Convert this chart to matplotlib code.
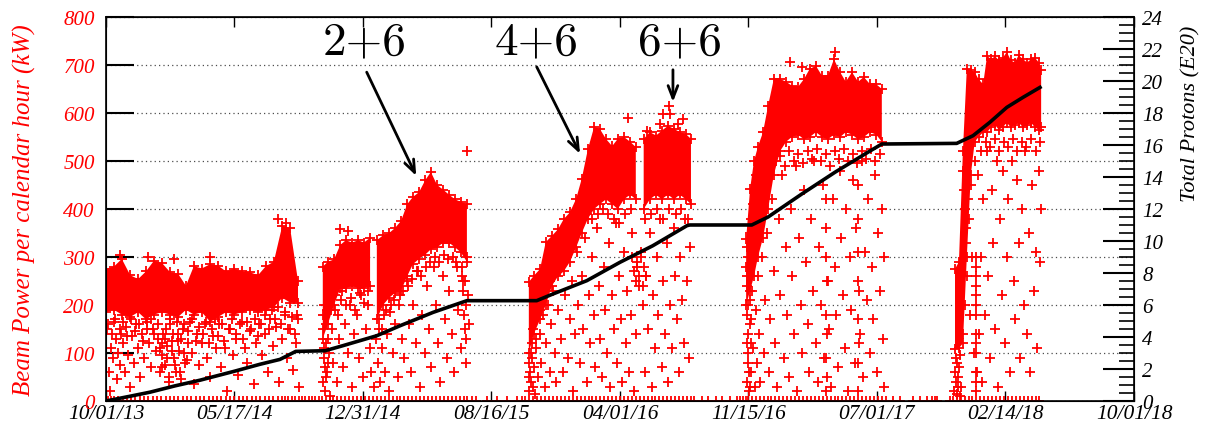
import matplotlib.pyplot as plt
import matplotlib.dates as mdates
import numpy as np
import pandas as pd
from matplotlib.ticker import MultipleLocator

plt.rcParams['font.family'] = ['Liberation Serif', 'DejaVu Serif']
plt.rcParams['font.style'] = 'italic'

START = '2013-10-01'
tick_dates = ['2013-10-01', '2014-05-17', '2014-12-31', '2015-08-16', '2016-04-01',
              '2016-11-15', '2017-07-01', '2018-02-14', '2018-10-01']

# dense core of the beam power cloud (days since START, kW), nan = break between runs
band_day = [0, 14, 28, 43, 57, 71, 85, 99, 114, 128, 142, 156, 170, 185, 199, 213, 227, 242,
            256, 270, 284, 298, 313, 327, 341, np.nan,
            385, 394, 405, 416, 426, 437, 448, 458, 469, np.nan,
            481, 492, 503, 513, 524, 535, 545, 556, 567, 577, 588, 599, 609, 620, 630, 641, np.nan,
            751, 760, 771, 781, 792, 803, 813, 824, 835, 845, 856, 867, 877, 888, 899, 909, 920,
            931, 941, np.nan,
            955, 966, 977, 987, 998, 1009, 1019, 1030, 1039, np.nan,
            1137, 1144, 1151, 1158, 1167, 1176, 1186, 1197, 1208, 1218, 1229, 1240, 1250, 1261,
            1272, 1282, 1293, 1304, 1314, 1325, 1336, 1346, 1357, 1368, 1378, np.nan,
            1508, 1515, 1522, 1529, 1536, 1543, 1550, 1558, 1565, 1572, 1579, 1586, 1593, 1600,
            1607, 1614, 1621, 1629, 1636, 1643, 1650, 1657, 1661]
band_hi = [275, 280, 296, 262, 254, 270, 292, 288, 268, 265, 240, 281, 276, 285, 282, 270, 275, 270,
           268, 262, 281, 290, 365, 360, 250, np.nan,
           280, 290, 295, 325, 335, 330, 335, 330, 340, np.nan,
           335, 345, 350, 360, 375, 410, 425, 435, 460, 477, 450, 440, 430, 420, 415, 410, np.nan,
           248, 261, 275, 331, 344, 358, 379, 393, 421, 463, 525, 571, 567, 546, 531, 546, 550,
           540, 529, np.nan,
           546, 560, 553, 563, 573, 567, 560, 556, 546, np.nan,
           337, 442, 500, 530, 560, 615, 670, 671, 665, 657, 654, 671, 692, 698,
           677, 677, 712, 685, 665, 685, 665, 675, 660, 660, 650, np.nan,
           275, 290, 520, 692, 690, 685, 670, 660, 719, 712, 718, 710, 715, 727,
           710, 705, 720, 712, 705, 712, 715, 705, 690]
band_lo = [185, 190, 180, 175, 185, 170, 180, 185, 180, 175, 190, 180, 185, 165, 175, 185, 180, 185,
           190, 185, 190, 195, 215, 205, 205, np.nan,
           130, 160, 200, 235, 235, 240, 235, 235, 240, np.nan,
           170, 200, 215, 225, 230, 260, 285, 296, 305, 316, 320, 330, 330, 320, 310, 290, np.nan,
           100, 140, 170, 200, 240, 260, 270, 290, 320, 350, 380, 400, 410, 420, 410, 400, 420,
           430, 420, np.nan,
           400, 420, 430, 420, 430, 420, 430, 420, 410, np.nan,
           200, 230, 260, 300, 340, 400, 470, 520, 540, 550, 555, 545, 550, 560,
           550, 545, 555, 550, 560, 555, 545, 550, 560, 555, 540, np.nan,
           108, 110, 120, 300, 470, 540, 550, 560, 560, 570, 575, 565, 570, 580,
           570, 575, 580, 570, 575, 580, 570, 565, 570]

# scattered hours outside the core (day, kW)
scatter_pts = [
    # run 1
    (2, 150), (5, 60), (7, 20), (9, 110), (12, 90), (14, 165), (17, 130), (19, 45), (22, 100),
    (25, 75), (27, 140), (30, 120), (33, 60), (36, 155), (39, 95), (42, 30), (46, 135), (50, 80),
    (53, 160), (57, 110), (61, 50), (64, 140), (68, 90), (72, 165), (76, 120), (80, 70), (84, 150),
    (88, 105), (92, 130), (95, 60), (99, 95), (102, 140), (105, 75), (108, 115), (111, 50),
    (114, 160), (117, 125), (120, 90), (124, 60), (127, 140), (130, 105), (134, 45), (137, 150),
    (141, 80), (145, 120), (149, 165), (153, 100), (157, 35), (161, 140), (166, 75), (170, 120),
    (175, 160), (180, 90), (185, 50), (190, 135), (195, 110), (200, 160), (205, 70), (210, 125),
    (215, 20), (220, 150), (225, 95), (230, 130), (235, 55), (241, 165), (246, 110), (251, 80),
    (256, 145), (262, 35), (267, 120), (272, 160), (277, 95), (282, 140), (287, 60), (292, 170),
    (297, 115), (302, 155), (307, 40), (312, 130), (317, 180), (322, 90), (327, 150), (332, 65),
    (337, 120), (341, 170), (343, 30), (25, 305), (75, 300), (120, 295), (185, 300), (305, 380),
    (320, 370),
    (3, 160), (10, 140), (16, 170), (24, 150), (31, 165), (38, 135), (45, 170), (52, 145),
    (59, 160), (66, 125), (73, 150), (79, 170), (86, 140), (93, 160), (100, 120), (107, 150),
    (113, 170), (119, 140), (126, 165), (133, 130), (139, 160), (146, 145), (152, 170), (159, 125),
    (165, 155), (172, 140), (178, 165), (183, 120), (188, 150), (194, 170), (199, 135), (206, 160),
    (212, 110), (218, 150), (224, 170), (231, 140), (238, 160), (244, 130), (250, 165), (257, 150),
    (264, 170), (270, 135), (276, 160), (283, 180), (289, 150), (295, 190), (300, 170), (306, 195),
    (311, 160), (318, 185), (324, 150), (330, 175), (336, 140), (340, 180),
    (96, 110), (100, 70), (104, 130), (109, 90), (112, 40), (118, 105), (122, 75), (128, 125),
    (132, 60), (138, 100), (143, 85),
    # run 2
    (386, 40), (388, 90), (389, 20), (391, 120), (393, 60), (396, 100), (398, 10), (401, 150),
    (404, 80), (407, 190), (410, 40), (414, 130), (418, 210), (421, 70), (425, 160), (429, 100),
    (433, 200), (437, 30), (441, 140), (445, 180), (449, 90), (453, 220), (457, 50), (461, 150),
    (465, 200), (468, 110), (471, 60), (476, 30), (480, 130), (483, 80), (485, 150), (487, 40),
    (490, 110), (493, 180), (496, 60), (499, 140), (503, 20), (506, 200), (510, 100), (514, 160),
    (518, 50), (522, 220), (526, 130), (530, 90), (534, 250), (538, 160), (542, 60), (546, 200),
    (550, 120), (554, 270), (558, 30), (562, 180), (566, 100), (570, 240), (574, 150), (578, 70),
    (582, 280), (586, 200), (590, 120), (594, 40), (598, 260), (602, 170), (606, 90), (610, 230),
    (614, 140), (618, 60), (622, 290), (626, 190), (630, 110), (634, 250), (637, 150), (640, 80),
    (640, 200), (632, 280), (634, 230), (636, 180), (638, 250), (639, 130), (641, 300), (643, 220),
    (645, 160), (415, 358), (430, 354), (641, 520),
    (385, 180), (386, 150), (387, 110), (388, 200), (389, 70), (390, 160), (391, 50), (392, 190),
    (394, 130), (395, 80), (400, 190), (406, 220), (412, 180), (420, 230), (427, 200), (435, 215),
    (443, 190), (451, 225), (459, 205), (466, 230), (484, 170), (490, 150), (497, 190), (505, 185),
    (512, 210), (520, 200), (528, 230), (536, 240), (544, 255), (552, 270), (560, 260), (568, 280),
    (576, 290), (584, 300), (592, 290), (600, 305), (608, 295), (616, 300), (624, 280), (632, 260),
    # run 3
    (752, 20), (753, 60), (755, 40), (756, 90), (758, 30), (760, 70), (762, 15), (764, 110),
    (767, 50), (770, 140), (773, 80), (776, 180), (779, 30), (782, 120), (785, 200), (788, 60),
    (791, 160), (794, 230), (797, 100), (800, 40), (803, 190), (806, 270), (809, 130), (812, 60),
    (815, 220), (818, 300), (821, 90), (824, 170), (827, 250), (830, 20), (833, 140), (836, 310),
    (839, 200), (842, 80), (845, 260), (848, 150), (851, 340), (854, 40), (857, 220), (860, 120),
    (863, 300), (866, 180), (869, 70), (872, 360), (875, 240), (878, 130), (881, 50), (884, 280),
    (887, 190), (890, 100), (893, 330), (896, 30), (899, 220), (902, 150), (905, 370), (908, 80),
    (911, 260), (914, 170), (917, 40), (920, 310), (923, 120), (926, 230), (929, 60), (932, 180),
    (935, 350), (938, 20), (941, 140), (944, 280), (947, 240), (950, 300), (953, 200), (957, 60),
    (960, 260), (963, 150), (966, 350), (969, 30), (972, 220), (975, 110), (978, 300), (981, 180),
    (984, 380), (987, 70), (990, 250), (993, 140), (996, 330), (999, 40), (1002, 200), (1005, 110),
    (1008, 360), (1011, 260), (1014, 170), (1017, 60), (1020, 300), (1023, 210), (1026, 120),
    (1029, 380), (1032, 250), (1035, 90), (1038, 320), (935, 300), (938, 270), (941, 250),
    (944, 290), (947, 260), (950, 310), (953, 240), (956, 280), (959, 260), (927, 590),
    (1000, 615), (989, 598), (1002, 598), (984, 577), (1016, 577), (1025, 588), (961, 563),
    (751, 80), (752, 50), (754, 100), (757, 120), (759, 150), (763, 130), (766, 170), (770, 190),
    (774, 210), (779, 220), (784, 240), (789, 250), (795, 270), (801, 290), (808, 300), (815, 320),
    (822, 340), (830, 350), (838, 360), (846, 380), (855, 390), (864, 380), (873, 390), (882, 400),
    (892, 390), (902, 380), (912, 370), (922, 390), (932, 400), (958, 380), (968, 390), (978, 400),
    (990, 380), (1000, 400), (1012, 390), (1022, 400), (1034, 380),
    # run 4
    (1138, 40), (1139, 120), (1140, 200), (1141, 80), (1142, 20), (1144, 160), (1146, 60),
    (1148, 230), (1150, 110), (1152, 30), (1154, 190), (1156, 80), (1158, 260), (1160, 140),
    (1162, 40), (1165, 300), (1168, 100), (1171, 210), (1174, 350), (1177, 60), (1180, 170),
    (1183, 420), (1186, 270), (1189, 120), (1192, 30), (1195, 380), (1198, 220), (1201, 470),
    (1204, 90), (1207, 320), (1210, 180), (1213, 50), (1216, 400), (1219, 260), (1222, 140),
    (1225, 490), (1228, 20), (1231, 340), (1234, 200), (1237, 100), (1240, 440), (1243, 290),
    (1246, 160), (1249, 60), (1252, 380), (1255, 230), (1258, 500), (1261, 120), (1264, 40),
    (1267, 320), (1270, 200), (1273, 450), (1276, 90), (1279, 360), (1282, 250), (1285, 150),
    (1288, 30), (1291, 420), (1294, 280), (1297, 180), (1300, 70), (1303, 480), (1306, 340),
    (1309, 220), (1312, 110), (1315, 400), (1318, 20), (1321, 300), (1324, 190), (1327, 460),
    (1330, 80), (1333, 360), (1336, 250), (1339, 140), (1342, 500), (1345, 50), (1348, 310),
    (1351, 210), (1354, 420), (1357, 100), (1360, 280), (1363, 170), (1366, 470), (1369, 60),
    (1372, 350), (1375, 230), (1378, 400), (1380, 130), (1381, 300), (1382, 30),
    (1279, 420), (1279, 300), (1279, 180), (1279, 90), (1279, 20), (1280, 250), (1280, 140),
    (1280, 50), (1336, 450), (1336, 380), (1336, 310), (1336, 170), (1336, 80), (1336, 20),
    (1337, 230), (1337, 120), (1138, 240), (1139, 180), (1140, 140), (1141, 100), (1142, 60),
    (1143, 210), (1144, 30), (1145, 170), (1146, 120), (1215, 706), (1236, 696), (1295, 728),
    (1137, 280), (1138, 320), (1139, 260), (1141, 300), (1143, 350), (1145, 380), (1147, 330),
    (1149, 410), (1152, 440), (1155, 470), (1158, 500), (1162, 480), (1166, 520), (1190, 500),
    (1198, 510), (1206, 490), (1214, 520), (1222, 500), (1230, 515), (1238, 495), (1246, 520),
    (1254, 505), (1262, 525), (1270, 500), (1278, 515), (1286, 490), (1294, 520), (1302, 505),
    (1310, 525), (1318, 500), (1326, 515), (1334, 495), (1342, 520), (1350, 505), (1358, 525),
    (1366, 500), (1374, 515),
    # run 5
    (1506, 20), (1508, 60), (1509, 40), (1511, 80), (1512, 15), (1513, 50), (1517, 95), (1519, 30),
    (1522, 140), (1525, 200), (1527, 330), (1529, 260), (1531, 420), (1533, 380), (1535, 180),
    (1537, 450), (1539, 300), (1541, 100), (1543, 500), (1545, 240), (1547, 60), (1549, 470),
    (1551, 140), (1554, 300), (1556, 40), (1558, 420), (1561, 180), (1564, 520), (1567, 260),
    (1570, 90), (1573, 440), (1576, 330), (1579, 150), (1582, 500), (1585, 30), (1588, 380),
    (1591, 220), (1594, 480), (1597, 120), (1600, 300), (1603, 420), (1606, 60), (1609, 500),
    (1612, 250), (1615, 170), (1618, 460), (1621, 330), (1624, 90), (1627, 400), (1630, 200),
    (1633, 520), (1636, 140), (1639, 350), (1642, 60), (1645, 450), (1648, 230), (1651, 310),
    (1654, 110), (1657, 480), (1659, 290), (1660, 400),
    (1545, 300), (1545, 260), (1545, 220), (1545, 180), (1545, 140), (1545, 100), (1545, 60),
    (1545, 20), (1546, 280), (1546, 200), (1546, 120), (1546, 40), (1510, 90), (1513, 30),
    (1515, 70), (1517, 10),
    (1555, 520), (1563, 540), (1571, 530), (1579, 545), (1587, 520), (1595, 540), (1603, 530),
    (1611, 545), (1619, 520), (1627, 540), (1635, 530), (1643, 545), (1651, 520), (1659, 540),
    (1522, 480), (1524, 440), (1526, 400), (1528, 360),
]

# hours with no beam (day, kW = 0)
zero_day = [3, 9, 15, 22, 30, 37, 44, 52, 60, 67, 75, 83, 90, 98, 106, 113, 121, 128, 136, 144,
            151, 159, 167, 174, 182, 190, 197, 205, 213, 220, 228, 236, 243, 251, 259, 266, 274,
            282, 289, 297, 305, 312, 318, 324, 330, 336, 342, 348, 354, 360, 366, 372, 378, 384,
            390, 397, 404, 411, 418, 425, 432, 439, 446, 453, 460, 467, 474, 481, 488, 495, 502,
            509, 516, 523, 530, 537, 544, 551, 558, 565, 572, 579, 586, 593, 600, 607, 614, 621,
            628, 635, 641, 650, 658, 676, 694, 712, 730, 738, 745,
            752, 759, 766, 773, 780, 787, 794, 801, 808, 815, 822, 829, 836, 843, 850, 857, 864,
            871, 878, 885, 892, 899, 906, 913, 920, 927, 934, 941, 948, 955, 962, 969, 976, 983,
            990, 997, 1004, 1011, 1018, 1025, 1032, 1039, 1045, 1058, 1070, 1083, 1095, 1108,
            1121, 1126, 1131, 1136,
            1140, 1147, 1154, 1161, 1168, 1175, 1182, 1189, 1196, 1203, 1210, 1217, 1224, 1231,
            1238, 1245, 1252, 1259, 1266, 1273, 1280, 1287, 1294, 1301, 1308, 1315, 1322, 1329,
            1336, 1343, 1350, 1357, 1364, 1371, 1378, 1385, 1398, 1410, 1433, 1446, 1458, 1468,
            1472, 1476, 1500, 1505, 1511, 1518, 1525, 1532, 1539, 1546, 1553, 1560, 1567, 1574,
            1581, 1588, 1595, 1602, 1609, 1616, 1623, 1630, 1637, 1644, 1651, 1658]

# integrated protons on target (day, E20)
pot_day = [0, 43, 78, 123, 167, 227, 274, 309, 337, 389, 421, 481, 522, 581, 641, 765, 794, 854,
           913, 971, 1032, 1037, 1147, 1176, 1236, 1295, 1353, 1378, 1511, 1540, 1570, 1600, 1629,
           1659]
pot_e20 = [0, 0.3, 0.55, 0.95, 1.3, 1.85, 2.3, 2.6, 3.1, 3.14, 3.46, 4.08, 4.7, 5.54, 6.27, 6.27,
           6.69, 7.52, 8.67, 9.7, 10.96, 11.0, 11.0, 11.5, 12.94, 14.3, 15.54, 16.06, 16.1, 16.58,
           17.42, 18.35, 18.98, 19.6]

t0 = mdates.date2num(pd.Timestamp(START))
bx = t0 + np.array(band_day, dtype=float)
pts = np.array(scatter_pts, dtype=float)
zx = t0 + np.array(zero_day, dtype=float)
px = t0 + np.array(pot_day, dtype=float)
ticks = [mdates.date2num(pd.Timestamp(d)) for d in tick_dates]

fig = plt.figure(figsize=(12.05, 4.31), dpi=100)
ax = fig.add_axes([0.088, 0.0673, 0.8531, 0.891])

ax.fill_between(bx, band_lo, band_hi, color='red', lw=0, zorder=2)
mk = dict(ls='none', marker='+', color='red', ms=7, mew=1.3, zorder=2)
ax.plot(bx, band_hi, **mk)
ax.plot(bx, band_lo, **mk)
ax.plot(t0 + pts[:, 0], pts[:, 1], **mk)
ax.plot(zx, np.zeros_like(zx), **mk)

ax.set_xlim(ticks[0], ticks[-1])
ax.set_ylim(0, 800)
ax.set_xticks(ticks)
ax.xaxis.set_major_formatter(mdates.DateFormatter('%m/%d/%y'))
ax.yaxis.set_major_locator(MultipleLocator(100))
ax.tick_params(axis='x', direction='in', length=7, width=1, top=True, labelsize=15.5, pad=2)
ax.tick_params(axis='y', direction='in', length=20, width=1.5, labelcolor='red', labelsize=15, pad=8)
ax.yaxis.grid(True, linestyle=(0, (1, 2.5)), color='0.3', lw=0.9)
ax.set_axisbelow(True)
for s in ax.spines.values():
    s.set_linewidth(1.2)
ax.set_ylabel('Beam Power per calendar hour (kW)', color='red', fontsize=18)
ax.yaxis.set_label_coords(-0.068, 0.5)

ax2 = ax.twinx()
ax2.plot(px, pot_e20, color='black', lw=2.6, zorder=3)
ax2.set_ylim(0, 24)
ax2.yaxis.set_major_locator(MultipleLocator(2))
ax2.yaxis.set_minor_locator(MultipleLocator(0.5))
ax2.tick_params(axis='y', which='major', direction='in', length=22, width=1.5, labelsize=15, pad=6)
ax2.tick_params(axis='y', which='minor', direction='in', length=11, width=1.2)
ax2.set_ylabel('Total Protons (E20)', fontsize=16, loc='top')
ax2.yaxis.set_label_coords(1.046, 0.98)

# beam configuration labels
big = dict(fontsize=34, ha='center', va='center', family='cmr10', style='normal')
ax.text(t0 + 460, 750, '2+6', **big)
ax.text(t0 + 765, 750, '4+6', **big)
ax.text(t0 + 1019, 750, '6+6', **big)
arrow = dict(arrowstyle='->,head_length=0.9,head_width=0.35', lw=2, color='black',
             shrinkA=0, shrinkB=0)
ax.annotate('', xy=(t0 + 551, 469), xytext=(t0 + 463, 685), arrowprops=arrow)
ax.annotate('', xy=(t0 + 842, 515), xytext=(t0 + 765, 696), arrowprops=arrow)
ax.annotate('', xy=(t0 + 1007, 623), xytext=(t0 + 1007, 690), arrowprops=arrow)

fig.savefig('out.png', dpi=100)
